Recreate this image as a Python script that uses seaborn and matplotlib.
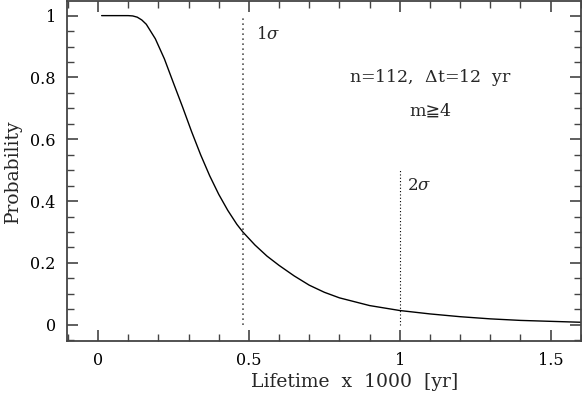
import numpy as np
import pandas as pd
import matplotlib
matplotlib.use("Agg")
import matplotlib.pyplot as plt
import seaborn as sns
from matplotlib.ticker import MultipleLocator

# curve
lifetime = [0.012, 0.10, 0.115, 0.13, 0.145, 0.16, 0.19, 0.22, 0.25, 0.28, 0.31, 0.34, 0.37,
            0.40, 0.43, 0.46, 0.48, 0.52, 0.56, 0.60, 0.65, 0.70, 0.75, 0.80,
            0.90, 1.00, 1.10, 1.20, 1.30, 1.40, 1.50, 1.60]
prob = [1.0, 1.0, 0.999, 0.995, 0.986, 0.972, 0.925, 0.860, 0.782, 0.705, 0.625, 0.550, 0.482,
        0.422, 0.370, 0.325, 0.300, 0.258, 0.222, 0.192, 0.158, 0.128, 0.105, 0.087,
        0.062, 0.046, 0.035, 0.026, 0.019, 0.014, 0.011, 0.008]

sigma_x = [0.479, 1.0]
sigma_top = [0.995, 0.5]
sigma_labels = ["1$\\sigma$", "2$\\sigma$"]

df = pd.DataFrame({"lifetime": lifetime, "prob": prob})

sns.set_style("ticks")
plt.rcParams["font.family"] = ["DejaVu Serif", "DejaVu Sans"]
plt.rcParams["mathtext.fontset"] = "dejavuserif"

fig = plt.figure(figsize=(5.82, 3.94), dpi=100)
ax = fig.add_axes([0.115, 0.135, 0.883, 0.863])

sns.lineplot(data=df, x="lifetime", y="prob", color="black", linewidth=1.0, ax=ax)

# sigma markers
ax.vlines(sigma_x[0], 0, sigma_top[0], colors="#555555", linestyles=(0, (1, 2)), linewidth=1.2)
ax.vlines(sigma_x[1], 0, sigma_top[1], colors="black", linestyles=(0, (1, 2)), linewidth=0.8)
ax.text(0.525, 0.94, sigma_labels[0], fontsize=12, ha="left", va="center")
ax.text(1.025, 0.45, sigma_labels[1], fontsize=12, ha="left", va="center")

ax.text(1.10, 0.8, "n=112,  $\\Delta$t=12  yr", fontsize=12.5, ha="center", va="center")
ax.text(1.10, 0.69, "m≧4", fontsize=12.5, ha="center", va="center")

ax.set_xlim(-0.103, 1.6)
ax.set_ylim(-0.052, 1.048)
ax.xaxis.set_minor_locator(MultipleLocator(0.1))
ax.yaxis.set_minor_locator(MultipleLocator(0.05))
ax.set_xticks([0, 0.5, 1, 1.5])
ax.set_xticklabels(["0", "0.5", "1", "1.5"])
ax.set_yticks([0, 0.2, 0.4, 0.6, 0.8, 1])
ax.set_yticklabels(["0", "0.2", "0.4", "0.6", "0.8", "1"])

ax.tick_params(which="both", direction="in", top=True, right=True, colors="#444444",
               labelcolor="black", labelsize=11.5)
ax.tick_params(which="major", length=8, width=1.2, pad=8)
ax.tick_params(which="minor", length=5, width=1.0)
for s in ax.spines.values():
    s.set_color("#444444")
    s.set_linewidth(1.3)

ax.set_xlabel("Lifetime  x  1000  [yr]", fontsize=13.5, labelpad=3, x=0.56)
ax.set_ylabel("Probability", fontsize=13.5, labelpad=6)

fig.savefig("out.png", dpi=100)
